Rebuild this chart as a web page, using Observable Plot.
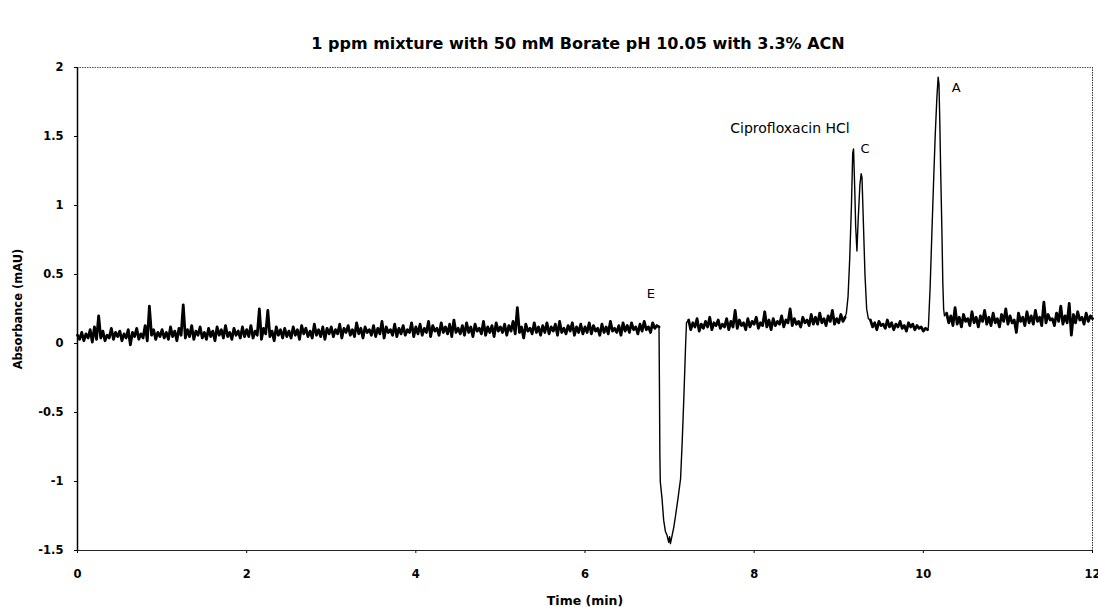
<!DOCTYPE html>
<html><head><meta charset="utf-8">
<script src="https://cdn.jsdelivr.net/npm/d3@7"></script>
<script src="https://cdn.jsdelivr.net/npm/@observablehq/plot@0.6"></script>
<style>body{margin:0;background:#fff;} #chart svg{display:block;}</style>
</head><body><div id="chart"></div>
<script>
// ---- text ----
const titleText = "1 ppm mixture with 50 mM Borate pH 10.05 with 3.3% ACN";
const xLabel = "Time (min)";
const yLabel = "Absorbance (mAU)";
const xTicks = [0, 2, 4, 6, 8, 10, 12];
const yTicks = [-1.5, -1, -0.5, 0, 0.5, 1, 1.5, 2];

// ---- trace (sampled every 0.025 min on the baselines) ----
const sampleStep = 0.025;
const base1Start = 0;
const base1 = [
  0.06,0.03,0.08,0.02,0.07,0.04,0.10,0.01,0.12,0.03,0.20,0.04,0.09,0.02,0.06,0.04,0.11,0.03,0.08,0.05,
  0.09,0.02,0.07,0.04,0.10,-0.01,0.08,0.05,0.11,0.03,0.07,0.04,0.13,0.02,0.27,0.06,0.10,0.03,0.08,0.05,
  0.10,0.04,0.08,0.03,0.12,0.05,0.09,0.02,0.11,0.06,0.28,0.04,0.10,0.05,0.13,0.03,0.09,0.06,0.12,0.04,
  0.08,0.03,0.11,0.05,0.09,0.02,0.12,0.06,0.10,0.04,0.13,0.05,0.08,0.03,0.11,0.06,0.09,0.04,0.12,0.05,
  0.10,0.05,0.13,0.04,0.09,0.06,0.25,0.03,0.11,0.07,0.24,0.05,0.09,0.02,0.12,0.06,0.10,0.04,0.11,0.05,
  0.09,0.04,0.12,0.06,0.10,0.03,0.13,0.07,0.11,0.05,0.09,0.04,0.14,0.06,0.10,0.05,0.12,0.03,0.11,0.07,
  0.12,0.05,0.10,0.07,0.14,0.04,0.11,0.08,0.13,0.06,0.10,0.05,0.15,0.07,0.11,0.04,0.12,0.08,0.10,0.06,
  0.13,0.05,0.11,0.07,0.16,0.04,0.12,0.08,0.10,0.06,0.14,0.05,0.11,0.07,0.13,0.06,0.10,0.08,0.15,0.05,
  0.12,0.07,0.14,0.06,0.11,0.08,0.16,0.05,0.13,0.09,0.11,0.06,0.15,0.08,0.12,0.07,0.14,0.05,0.17,0.08,
  0.11,0.07,0.13,0.06,0.15,0.08,0.12,0.05,0.14,0.09,0.11,0.07,0.16,0.06,0.12,0.08,0.13,0.05,0.15,0.09,
  0.12,0.08,0.14,0.06,0.13,0.09,0.16,0.07,0.26,0.08,0.12,0.04,0.14,0.09,0.11,0.07,0.15,0.08,0.12,0.06,
  0.13,0.08,0.15,0.07,0.12,0.09,0.14,0.06,0.16,0.08,0.11,0.07,0.13,0.09,0.15,0.06,0.12,0.08,0.14,0.07,
  0.12,0.08,0.15,0.07,0.13,0.09,0.11,0.06,0.14,0.08,0.12,0.07,0.16,0.09,0.11,0.08,0.13,0.06,0.15,0.09,
  0.13,0.08,0.15,0.10,0.12,0.07,0.14,0.09,0.16,0.10,0.12,0.08,0.15,0.11,0.13,0.12
];
const dipT = [6.88, 6.885, 6.89, 6.91, 6.93, 6.95, 6.97, 6.99, 7.0, 7.01, 7.03, 7.05, 7.07, 7.1, 7.13, 7.15, 7.17, 7.19, 7.2];
const dipV = [-0.3, -0.8, -1.0, -1.12, -1.28, -1.36, -1.39, -1.44, -1.40, -1.45, -1.39, -1.33, -1.25, -1.12, -0.98, -0.7, -0.37, 0.0, 0.15];
const base2Start = 7.225;
const base2 = [
  0.17,0.10,0.15,0.12,0.18,0.09,0.14,0.11,0.16,0.12,0.19,0.10,0.15,0.13,0.17,0.11,0.14,0.12,0.18,0.10,
  0.16,0.12,0.24,0.11,0.17,0.13,0.15,0.10,0.18,0.12,0.16,0.14,0.19,0.11,0.15,0.13,0.23,0.12,0.17,0.10,
  0.18,0.13,0.16,0.14,0.20,0.12,0.17,0.15,0.25,0.13,0.18,0.14,0.16,0.12,0.19,0.15,0.17,0.13,0.21,0.14,
  0.19,0.14,0.22,0.15,0.18,0.13,0.20,0.16,0.24,0.14,0.18,0.15,0.21,0.16,0.19
];
const peakCT = [9.09, 9.11, 9.13, 9.15, 9.165, 9.175, 9.19, 9.2, 9.215, 9.23, 9.25, 9.265, 9.275, 9.29, 9.31, 9.33, 9.35];
const peakCV = [0.22, 0.34, 0.62, 1.0, 1.38, 1.41, 1.1, 0.85, 0.67, 0.9, 1.15, 1.23, 1.2, 0.9, 0.5, 0.25, 0.18];
const base3Start = 9.375;
const base3 = [
  0.17,0.12,0.15,0.10,0.16,0.13,0.14,0.11,0.17,0.12,0.15,0.10,0.14,0.12,0.16,0.11,0.13,0.09,0.15,0.12,
  0.14,0.10,0.13,0.11,0.12,0.09,0.11,0.10
];
const peakAT = [10.06, 10.08, 10.1, 10.12, 10.14, 10.16, 10.175, 10.185, 10.195, 10.205, 10.22, 10.23, 10.24, 10.25];
const peakAV = [0.12, 0.4, 0.78, 1.15, 1.5, 1.78, 1.93, 1.88, 1.6, 1.25, 0.8, 0.45, 0.25, 0.2];
const base4Start = 10.275;
const base4 = [
  0.22,0.15,0.20,0.13,0.26,0.14,0.19,0.12,0.21,0.16,0.18,0.13,0.23,0.15,0.19,0.12,0.20,0.16,0.24,0.14,
  0.19,0.13,0.22,0.15,0.18,0.12,0.21,0.16,0.25,0.14,0.20,0.15,0.17,0.08,0.22,0.16,0.19,0.13,0.23,0.15,
  0.20,0.14,0.24,0.16,0.19,0.13,0.30,0.15,0.21,0.17,0.18,0.13,0.22,0.16,0.27,0.14,0.20,0.15,0.29,0.06,
  0.21,0.15,0.23,0.17,0.19,0.14,0.22,0.16,0.20,0.18
];

// ---- peak annotations ----
const annText = ["E", "Ciprofloxacin HCl", "C", "A"];
const annT = [6.78, 9.13, 9.31, 10.39];
const annV = [0.36, 1.56, 1.41, 1.85];

// ---- build table ----
const trace = [];
const noise = [];
const addBase = (start, vals, seg) => vals.forEach((v, i) => {
  const d = {t: +(start + i * sampleStep).toFixed(3), v, seg};
  trace.push(d); noise.push(d);
});
const addPairs = (ts, vs) => ts.forEach((t, i) => trace.push({t, v: vs[i]}));
addBase(base1Start, base1, 1);
addPairs(dipT, dipV);
addBase(base2Start, base2, 2);
addPairs(peakCT, peakCV);
addBase(base3Start, base3, 3);
addPairs(peakAT, peakAV);
addBase(base4Start, base4, 4);

const ann = annText.map((text, i) => ({text, t: annT[i], v: annV[i]}));
const annLetters = ann.filter(d => d.text.length === 1);
const annCipro = ann.filter(d => d.text.length > 1);

const font = "DejaVu Sans, Liberation Sans, Arial, sans-serif";
const chart = Plot.plot({
  width: 1098, height: 607,
  marginLeft: 77, marginRight: 6, marginTop: 67, marginBottom: 57,
  style: {fontFamily: font, background: "#fff", color: "#000", overflow: "visible"},
  x: {domain: [0, 12]},
  y: {domain: [-1.5, 2]},
  marks: [
    Plot.ruleY([2], {stroke: "#555", strokeWidth: 1, strokeDasharray: "1.5,1"}),
    Plot.ruleX([12], {stroke: "#333", strokeWidth: 1, strokeDasharray: "1.5,1"}),
    Plot.axisX({ticks: xTicks, tickFormat: d => String(d), tickSize: 3, tickPadding: 16, label: null, fontSize: 11.5, fontWeight: "bold"}),
    Plot.axisY({ticks: yTicks, tickFormat: d => String(d), tickSize: 3, tickPadding: 11, label: null, fontSize: 11.5, fontWeight: "bold"}),
    Plot.ruleX([0], {stroke: "#000", strokeWidth: 1.5}),
    Plot.ruleY([-1.5], {stroke: "#222", strokeWidth: 1.2}),
    Plot.lineY(trace, {x: "t", y: "v", stroke: "#000", strokeWidth: 1.4}),
    Plot.lineY(noise, {x: "t", y: "v", z: "seg", stroke: "#000", strokeWidth: 2.8, strokeLinejoin: "round"}),
    Plot.text(annLetters, {x: "t", y: "v", text: "text", fontSize: 13, textAnchor: "middle"}),
    Plot.text(annCipro, {x: "t", y: "v", text: "text", fontSize: 14, textAnchor: "end", letterSpacing: "1.6px"}),
    Plot.text([titleText], {frameAnchor: "top", dy: -24, dx: -7, lineAnchor: "middle", text: d => d, fontSize: 16, fontWeight: "bold", letterSpacing: "2.1px"}),
    Plot.text([xLabel], {frameAnchor: "bottom", dy: 50, lineAnchor: "middle", text: d => d, fontSize: 12.5, fontWeight: "bold", letterSpacing: "0.8px"}),
    Plot.text([yLabel], {frameAnchor: "left", dx: -59, textAnchor: "middle", lineAnchor: "middle", rotate: -90, text: d => d, fontSize: 11.5, fontWeight: "bold", letterSpacing: "0.3px"})
  ]
});
document.getElementById("chart").appendChild(chart);
</script>
</body></html>
